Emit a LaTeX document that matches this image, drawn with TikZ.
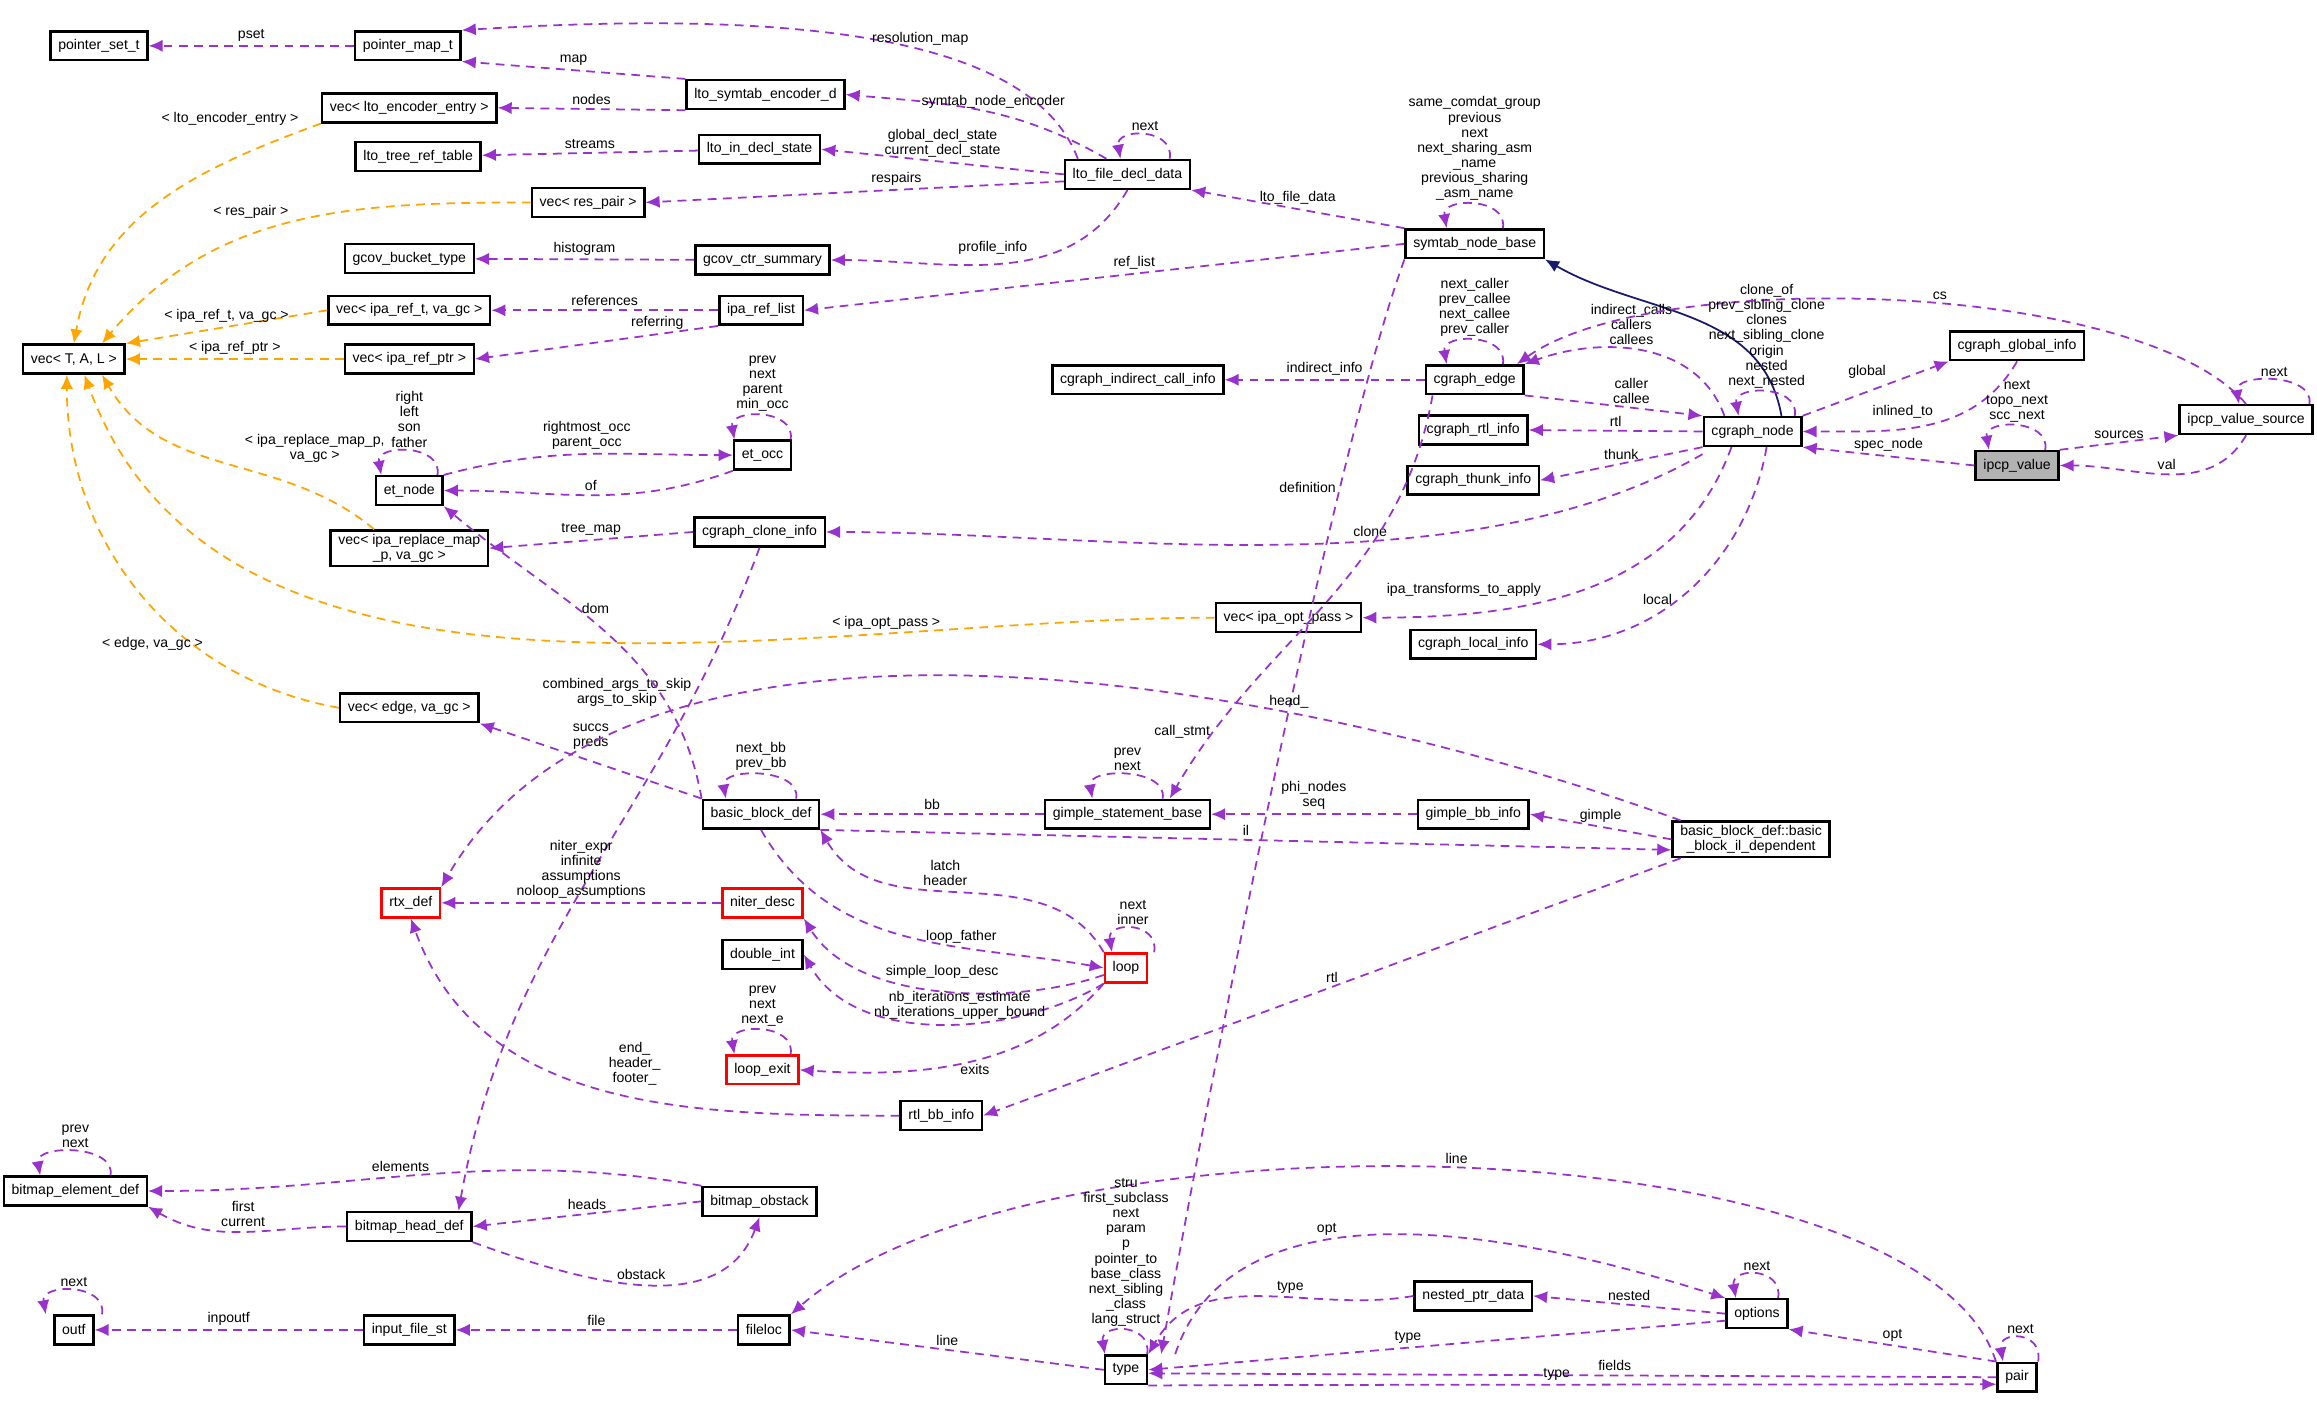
\documentclass[tikz,border=0pt]{standalone}
\usepackage{fontspec}
\setmainfont{Liberation Sans}
\usetikzlibrary{arrows.meta}
\definecolor{use}{RGB}{153,50,204}
\definecolor{tmpl}{RGB}{255,165,0}
\definecolor{inh}{RGB}{25,25,112}
\begin{document}
\begin{tikzpicture}[x=0.014777cm,y=-0.014777cm]

\tikzset{cls/.style={draw,line width=0.7pt,fill=white,inner xsep=2.2pt,inner ysep=1pt,minimum height=8.2pt,font=\fontsize{4pt}{4.3pt}\selectfont,align=center}}
\tikzset{red/.style={cls,draw=red}}
\tikzset{lbl/.style={font=\fontsize{4pt}{4.3pt}\selectfont,align=center,inner sep=1pt}}
\tikzset{arrow/.style={draw=use,line width=0.5pt,-{Latex[length=4pt,width=3.5pt]},dash pattern=on 2.5pt off 1.8pt}}
\tikzset{tarrow/.style={arrow,draw=tmpl}}
\tikzset{selfloop/.style={out=80,in=100,distance=9pt}}

\useasboundingbox (0,0) rectangle (1568,948.8);

% classes
\node[cls] (pset) at (67,31) {pointer\_set\_t};
\node[cls] (pmap) at (276,31) {pointer\_map\_t};
\node[cls] (encd) at (518,64) {lto\_symtab\_encoder\_d};
\node[cls] (venc) at (277,73) {vec< lto\_encoder\_entry >};
\node[cls] (trt) at (283,106) {lto\_tree\_ref\_table};
\node[cls] (indecl) at (514,101) {lto\_in\_decl\_state};
\node[cls] (fdd) at (763,118) {lto\_file\_decl\_data};
\node[cls] (vres) at (398,137) {vec< res\_pair >};
\node[cls] (gbt) at (277,175) {gcov\_bucket\_type};
\node[cls] (gcs) at (516,176) {gcov\_ctr\_summary};
\node[cls] (snb) at (998,165) {symtab\_node\_base};
\node[cls] (vref) at (277,210) {vec< ipa\_ref\_t, va\_gc >};
\node[cls] (irl) at (515,210) {ipa\_ref\_list};
\node[cls] (vtal) at (50,243) {vec< T, A, L >};
\node[cls] (vptr) at (277,243) {vec< ipa\_ref\_ptr >};
\node[cls] (cici) at (770,257) {cgraph\_indirect\_call\_info};
\node[cls] (cedge) at (998,257) {cgraph\_edge};
\node[cls] (cgi) at (1365,234) {cgraph\_global\_info};
\node[cls] (cri) at (997,291) {cgraph\_rtl\_info};
\node[cls] (cnode) at (1186,292) {cgraph\_node};
\node[cls,fill=black!30] (ipv) at (1365,315) {ipcp\_value};
\node[cls] (ivs) at (1520,284) {ipcp\_value\_source};
\node[cls] (cti) at (997,325) {cgraph\_thunk\_info};
\node[cls] (etn) at (277,332) {et\_node};
\node[cls] (eto) at (516,308) {et\_occ};
\node[cls] (vrep) at (277,371) {vec< ipa\_replace\_map\\\_p, va\_gc >};
\node[cls] (cci) at (514,360) {cgraph\_clone\_info};
\node[cls] (vopt) at (872,418) {vec< ipa\_opt\_pass >};
\node[cls] (cli) at (997,436) {cgraph\_local\_info};
\node[cls] (vedge) at (277,479) {vec< edge, va\_gc >};
\node[cls] (bbd) at (515,551) {basic\_block\_def};
\node[cls] (gsb) at (763,551) {gimple\_statement\_base};
\node[cls] (gbi) at (997,551) {gimple\_bb\_info};
\node[cls] (bbil) at (1185,568) {basic\_block\_def::basic\\\_block\_il\_dependent};
\node[red] (rtx) at (278,611) {rtx\_def};
\node[red] (niter) at (516,611) {niter\_desc};
\node[cls] (dint) at (516,646) {double\_int};
\node[red] (loop) at (762,655) {loop};
\node[red] (lexit) at (516,724) {loop\_exit};
\node[cls] (rbi) at (637,755) {rtl\_bb\_info};
\node[cls] (bed) at (51,806) {bitmap\_element\_def};
\node[cls] (bob) at (514,813) {bitmap\_obstack};
\node[cls] (bhd) at (277,830) {bitmap\_head\_def};
\node[cls] (outf) at (50,900) {outf};
\node[cls] (ifs) at (277,900) {input\_file\_st};
\node[cls] (floc) at (517,900) {fileloc};
\node[cls] (npd) at (997,877) {nested\_ptr\_data};
\node[cls] (opts) at (1189,889) {options};
\node[cls] (type) at (762,927) {type};
\node[cls] (pair) at (1365,932) {pair};

% template instances
\draw[tarrow] (venc.south west) to[out=200,in=80] node[lbl,pos=0.05,above left]{< lto\_encoder\_entry >} (vtal.north);
\draw[tarrow] (vres.west) to[out=180,in=50] node[lbl,pos=0.5,above left]{< res\_pair >} ([xshift=8pt]vtal.north);
\draw[tarrow] (vref.west) -- node[lbl,above]{< ipa\_ref\_t, va\_gc >} (vtal.north east);
\draw[tarrow] (vptr) -- node[lbl,above]{< ipa\_ref\_ptr >} (vtal);
\draw[tarrow] ([xshift=-10pt]vrep.north) to[out=140,in=-60] node[lbl,pos=0.45,above right]{< ipa\_replace\_map\_p,\\va\_gc >} ([xshift=8pt]vtal.south);
\draw[tarrow] (vopt.west) to[out=180,in=-70,looseness=0.9] node[lbl,pos=0.25,above]{< ipa\_opt\_pass >} ([xshift=3pt]vtal.south);
\draw[tarrow] (vedge.west) to[out=170,in=-90] node[lbl,pos=0.3,above left]{< edge, va\_gc >} ([xshift=-2pt]vtal.south);

% inheritance
\draw[draw=inh,line width=0.5pt,-{Latex[length=4pt,width=3.5pt]}] ([xshift=-6pt]cnode.north east) to[out=100,in=-30] (snb.south east);

% usage
\draw[arrow] (pmap) -- node[lbl,above]{pset} (pset);
\draw[arrow] ([xshift=4pt]fdd.north west) .. controls (700,30) and (560,5) .. node[lbl,pos=0.45,above]{resolution\_map} (pmap.north east);
\draw[arrow] (encd.north west) -- node[lbl,above]{map} (pmap.south east);
\draw[arrow] (encd.south west) -- node[lbl,above]{nodes} (venc.east);
\draw[arrow] ([xshift=-6pt]fdd.north) to[out=150,in=-5] node[lbl,pos=0.45,above]{symtab\_node\_encoder} (encd.east);
\draw[arrow] (indecl) -- node[lbl,above]{streams} (trt);
\draw[arrow] (fdd.west) -- node[lbl,above]{global\_decl\_state\\current\_decl\_state} (indecl.east);
\draw[arrow] ([xshift=12pt]fdd.north) to[selfloop] node[lbl,above]{next} ([xshift=-2pt]fdd.north);
\draw[arrow] ([yshift=-2pt]fdd.west) -- node[lbl,above,pos=0.4]{respairs} (vres.east);
\draw[arrow] (fdd.south) to[out=-120,in=0] node[lbl,pos=0.4,above left]{profile\_info} (gcs.east);
\draw[arrow] (gcs) -- node[lbl,above]{histogram} (gbt);
\draw[arrow] (snb.north west) -- node[lbl,above]{lto\_file\_data} (fdd.south east);
\draw[arrow] ([xshift=8pt]snb.north) to[selfloop] node[lbl,above]{same\_comdat\_group\\previous\\next\\next\_sharing\_asm\\\_name\\previous\_sharing\\\_asm\_name} ([xshift=-8pt]snb.north);
\draw[arrow] (snb.west) -- node[lbl,above,pos=0.45]{ref\_list} (irl.east);
\draw[arrow] (irl.west) -- node[lbl,above]{references} (vref.east);
\draw[arrow] (irl.south west) -- node[lbl,above,pos=0.25]{referring} (vptr.east);
\draw[arrow] (cedge) -- node[lbl,above]{indirect\_info} (cici);
\draw[arrow] ([xshift=8pt]cedge.north) to[selfloop] node[lbl,above]{next\_caller\\prev\_callee\\next\_callee\\prev\_caller} ([xshift=-8pt]cedge.north);
\draw[arrow] ([xshift=-8pt]cnode.north) to[out=110,in=20] node[lbl,pos=0.55,above]{indirect\_calls\\callers\\callees} (cedge.north east);
\draw[arrow] (cedge.south east) -- node[lbl,above,pos=0.6]{caller\\callee} (cnode.north west);
\draw[arrow] (ivs.north) .. controls (1450,190) and (1120,180) .. node[lbl,pos=0.45,above]{cs} ([xshift=12pt]cedge.north);
\draw[arrow] ([xshift=12pt]cnode.north) to[selfloop] node[lbl,above]{clone\_of\\prev\_sibling\_clone\\clones\\next\_sibling\_clone\\origin\\nested\\next\_nested} ([xshift=-4pt]cnode.north);
\draw[arrow] (cnode.west) -- node[lbl,above]{rtl} (cri.east);
\draw[arrow] (cnode.south west) -- node[lbl,above]{thunk} (cti.east);
\draw[arrow] (cnode.north east) -- node[lbl,above left,pos=0.6]{global} (cgi.south west);
\draw[arrow] (cgi.south) to[out=-120,in=0] node[lbl,pos=0.45,above left]{inlined\_to} (cnode.east);
\draw[arrow] (ipv.west) -- node[lbl,above]{spec\_node} (cnode.south east);
\draw[arrow] ([xshift=8pt]ipv.north) to[selfloop] node[lbl,above]{next\\topo\_next\\scc\_next} ([xshift=-8pt]ipv.north);
\draw[arrow] (ipv.north east) -- node[lbl,above]{sources} (ivs.south west);
\draw[arrow] (ivs.south) to[out=-120,in=0] node[lbl,pos=0.5,above]{val} (ipv.east);
\draw[arrow] ([xshift=18pt]ivs.north) to[selfloop] node[lbl,above]{next} ([xshift=-2pt]ivs.north);
\draw[arrow] ([yshift=-2pt]cnode.south west) to[out=-150,in=0,looseness=0.8] node[lbl,pos=0.4,above]{clone} (cci.east);
\draw[arrow] ([xshift=-6pt]cnode.south) to[out=-110,in=0] node[lbl,pos=0.6,above left]{ipa\_transforms\_to\_apply} (vopt.east);
\draw[arrow] ([xshift=4pt]cnode.south) to[out=-100,in=0] node[lbl,pos=0.55,left]{local} (cli.east);
\draw[arrow] (cci.west) -- node[lbl,above]{tree\_map} (vrep.east);
\draw[arrow] (cci.south) to[out=-110,in=80] node[lbl,pos=0.2,left]{combined\_args\_to\_skip\\args\_to\_skip} ([xshift=14pt]bhd.north);
\draw[arrow] ([xshift=8pt]etn.north) to[selfloop] node[lbl,above]{right\\left\\son\\father} ([xshift=-8pt]etn.north);
\draw[arrow] (etn.north east) to[out=15,in=180] node[lbl,above,pos=0.5]{rightmost\_occ\\parent\_occ} (eto.west);
\draw[arrow] (eto.south west) to[out=-160,in=0] node[lbl,above,pos=0.5]{of} (etn.east);
\draw[arrow] ([xshift=8pt]eto.north) to[selfloop] node[lbl,above]{prev\\next\\parent\\min\_occ} ([xshift=-8pt]eto.north);
\draw[arrow] (bbd.north west) to[out=100,in=-40] node[lbl,pos=0.6,right]{dom} (etn.south east);
\draw[arrow] (bbd.north west) -- node[lbl,above right,pos=0.6]{succs\\preds} (vedge.south east);
\draw[arrow] ([xshift=10pt]bbd.north) to[selfloop] node[lbl,above]{next\_bb\\prev\_bb} ([xshift=-10pt]bbd.north);
\draw[arrow] (gsb) -- node[lbl,above]{bb} (bbd);
\draw[arrow] ([xshift=10pt]gsb.north) to[selfloop] node[lbl,above]{prev\\next} ([xshift=-10pt]gsb.north);
\draw[arrow] ([xshift=-12pt]cedge.south) to[out=-100,in=60] node[lbl,pos=0.85,left]{call\_stmt} ([xshift=12pt]gsb.north);
\draw[arrow] ([xshift=-20pt]snb.south) to[out=-110,in=80,looseness=0.5] node[lbl,pos=0.25,left]{definition} ([xshift=10pt]type.north);
\draw[arrow] (gbi) -- node[lbl,above]{phi\_nodes\\seq} (gsb);
\draw[arrow] (bbil.west) -- node[lbl,above]{gimple} (gbi.east);
\draw[arrow] (bbd.south east) -- node[lbl,above,pos=0.5]{il} ([yshift=-3pt]bbil.west);
\draw[arrow] ([xshift=-20pt]bbil.north) to[out=160,in=60,looseness=0.8] node[lbl,pos=0.3,above]{head\_} (rtx.north east);
\draw[arrow] ([xshift=-20pt]bbil.south) -- node[lbl,above,pos=0.5]{rtl} (rbi.east);
\draw[arrow] (rbi.west) to[out=180,in=-70] node[lbl,pos=0.5,above right]{end\_\\header\_\\footer\_} (rtx.south);
\draw[arrow] (niter) -- node[lbl,above]{niter\_expr\\infinite\\assumptions\\noloop\_assumptions} (rtx);
\draw[arrow] (loop.north west) to[out=120,in=-60] node[lbl,pos=0.55,above]{latch\\header} (bbd.south east);
\draw[arrow] (bbd.south) to[out=-60,in=170] node[lbl,pos=0.65,above]{loop\_father} (loop.west);
\draw[arrow] ([yshift=-2pt]loop.west) .. controls (690,680) and (580,680) .. node[lbl,pos=0.5,above=2pt]{simple\_loop\_desc} (niter.south east);
\draw[arrow] (loop.south west) .. controls (690,700) and (580,710) .. node[lbl,pos=0.45,above]{nb\_iterations\_estimate\\nb\_iterations\_upper\_bound} (dint.east);
\draw[arrow] (loop.south west) .. controls (700,720) and (630,730) .. node[lbl,pos=0.5,below]{exits} (lexit.east);
\draw[arrow] ([xshift=8pt]loop.north) to[selfloop] node[lbl,above]{next\\inner} ([xshift=-4pt]loop.north);
\draw[arrow] ([xshift=8pt]lexit.north) to[selfloop] node[lbl,above]{prev\\next\\next\_e} ([xshift=-8pt]lexit.north);
\draw[arrow] (bob.north west) to[out=170,in=0] node[lbl,pos=0.55,above]{elements} (bed.east);
\draw[arrow] (bhd.west) to[out=180,in=-30] node[lbl,pos=0.5,above]{first\\current} (bed.south east);
\draw[arrow] (bob.west) -- node[lbl,above]{heads} (bhd.east);
\draw[arrow] (bhd.south east) to[out=-20,in=-110] node[lbl,pos=0.5,above]{obstack} (bob.south);
\draw[arrow] ([xshift=10pt]bed.north) to[selfloop] node[lbl,above]{prev\\next} ([xshift=-10pt]bed.north);
\draw[arrow] ([xshift=8pt]outf.north) to[selfloop] node[lbl,above]{next} ([xshift=-8pt]outf.north);
\draw[arrow] (ifs) -- node[lbl,above]{inpoutf} (outf);
\draw[arrow] (floc) -- node[lbl,above]{file} (ifs);
\draw[arrow] (type.west) -- node[lbl,above]{line} (floc.east);
\draw[arrow] ([xshift=-6pt]pair.north) .. controls (1300,760) and (700,745) .. node[lbl,pos=0.5,above]{line} (floc.north east);
\draw[arrow] ([xshift=6pt]type.north) to[selfloop] node[lbl,above]{stru\\first\_subclass\\next\\param\\p\\pointer\_to\\base\_class\\next\_sibling\\\_class\\lang\_struct} ([xshift=-6pt]type.north);
\draw[arrow] ([xshift=14pt]type.north) .. controls (820,840) and (920,800) .. node[lbl,pos=0.5,above]{opt} (opts.north west);
\draw[arrow] (opts.west) -- node[lbl,above]{nested} (npd.east);
\draw[arrow] (npd.west) to[out=190,in=60] node[lbl,pos=0.4,above]{type} (type.north east);
\draw[arrow] ([yshift=-2pt]opts.west) -- node[lbl,above,pos=0.55]{type} (type.east);
\draw[arrow] ([xshift=6pt]opts.north) to[selfloop] node[lbl,above]{next} ([xshift=-6pt]opts.north);
\draw[arrow] (pair.north west) -- node[lbl,above]{opt} (opts.south east);
\draw[arrow] ([xshift=6pt]pair.north) to[selfloop] node[lbl,above]{next} ([xshift=-4pt]pair.north);
\draw[arrow] (pair.west) -- node[lbl,above,pos=0.45]{fields} ([yshift=-1pt]type.east);
\draw[arrow] (type.south east) .. controls (900,937) and (1200,937) .. node[lbl,above,pos=0.5]{type} ([yshift=-2pt]pair.west);

\end{tikzpicture}
\end{document}
